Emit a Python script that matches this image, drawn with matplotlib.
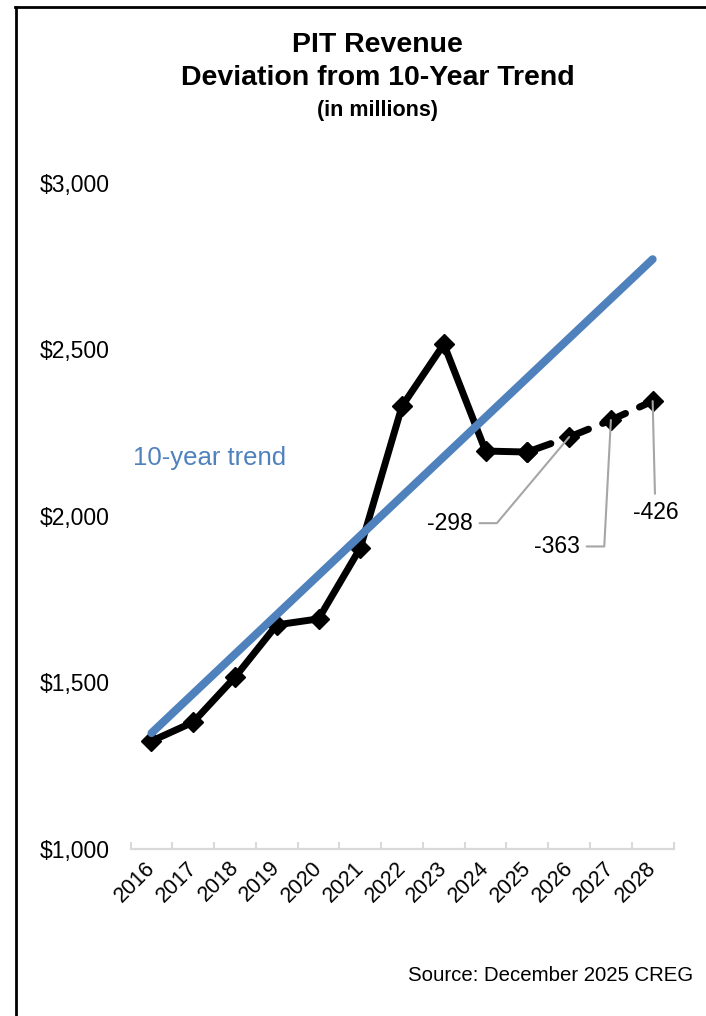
"""PIT revenue vs 10-year trend (line chart recreation)."""

import matplotlib

matplotlib.use("Agg")
import matplotlib.pyplot as plt  # noqa: E402
import matplotlib.transforms as mtransforms  # noqa: E402
from matplotlib.lines import Line2D  # noqa: E402

plt.rcParams["font.family"] = ["Liberation Sans", "DejaVu Sans"]

YEARS = [2016, 2017, 2018, 2019, 2020, 2021, 2022, 2023, 2024, 2025, 2026, 2027, 2028]
ACTUAL_YEARS = YEARS[:10]
ACTUAL = [1324, 1381, 1516, 1673, 1691, 1904, 2330, 2516, 2195, 2192]
FORECAST_YEARS = [2025, 2026, 2027, 2028]
FORECAST = [2192, 2237, 2288, 2345]
TREND_YEARS = [2016, 2028]
TREND = [1348, 2771]
DEVIATION_YEARS = [2026, 2027, 2028]
DEVIATION_LABELS = ["-298", "-363", "-426"]
Y_TICKS = [1000, 1500, 2000, 2500, 3000]

BLUE = "#4F81BD"
GRAY = "#A6A6A6"


def main() -> None:
    fig = plt.figure(figsize=(7.06, 10.16), dpi=100)
    ax = fig.add_axes([0.185, 0.1644, 0.769, 0.6555])

    idx = {y: i for i, y in enumerate(YEARS)}

    ax.plot([idx[y] for y in ACTUAL_YEARS], ACTUAL, color="black", linewidth=5,
            marker="D", markersize=10.5, zorder=2, solid_joinstyle="miter")
    ax.plot([idx[y] for y in FORECAST_YEARS], FORECAST, color="black", linewidth=5,
            linestyle=(0, (3.6, 2.2)), dash_capstyle="round", marker="D",
            markersize=10.5, zorder=2)
    ax.plot([idx[y] for y in TREND_YEARS], TREND, color=BLUE, linewidth=5.8,
            solid_capstyle="round", zorder=3)

    ax.set_xlim(-0.5, len(YEARS) - 0.5)
    ax.set_ylim(1000, 3000)
    ax.set_yticks(Y_TICKS)
    ax.set_yticklabels([f"${v:,}" for v in Y_TICKS], fontsize=16.5)
    ax.tick_params(axis="y", length=0, pad=15)

    ax.set_xticks(range(len(YEARS)))
    ax.set_xticklabels([str(y) for y in YEARS], rotation=45, ha="right",
                       va="top", rotation_mode="anchor", fontsize=15.5)
    ax.tick_params(axis="x", which="major", length=0, pad=6)
    shift = mtransforms.ScaledTranslation(-5 / 72, 0, fig.dpi_scale_trans)
    for lbl in ax.get_xticklabels():
        lbl.set_transform(lbl.get_transform() + shift)
    ax.set_xticks([i - 0.5 for i in range(len(YEARS) + 1)], minor=True)
    ax.tick_params(axis="x", which="minor", direction="in", length=5,
                   color="#D9D9D9", width=1.5)

    for side in ("left", "right", "top"):
        ax.spines[side].set_visible(False)
    ax.spines["bottom"].set_color("#D9D9D9")
    ax.spines["bottom"].set_linewidth(1.6)

    # deviation callouts
    value_at = dict(zip(FORECAST_YEARS, FORECAST))
    offsets = [(-86, -62), (-39, -91), (2, -80)]
    styles = ["angle,angleA=0,angleB=50,rad=0",
              "angle,angleA=0,angleB=87,rad=0",
              "arc3,rad=0"]
    for year, label, off, style in zip(DEVIATION_YEARS, DEVIATION_LABELS, offsets, styles):
        ax.annotate(label, xy=(idx[year], value_at[year]), xytext=off,
                    textcoords="offset points", fontsize=16.5, ha="center",
                    va="center",
                    arrowprops=dict(arrowstyle="-", color=GRAY, lw=1.5,
                                    connectionstyle=style, shrinkA=3, shrinkB=0))

    fig.text(0.188, 0.5495, "10-year trend", color=BLUE, fontsize=18.5,
             ha="left", va="center")

    fig.text(0.535, 0.956, "PIT Revenue", fontsize=20.5, fontweight="bold",
             ha="center", va="center")
    fig.text(0.535, 0.923, "Deviation from 10-Year Trend", fontsize=20.5,
             fontweight="bold", ha="center", va="center")
    fig.text(0.535, 0.891, "(in millions)", fontsize=15.5, fontweight="bold",
             ha="center", va="center")
    fig.text(0.982, 0.04, "Source: December 2025 CREG", fontsize=14.7,
             ha="right", va="center")

    # frame border (left and top edges)
    fig.add_artist(Line2D([0.022, 0.022], [0.0, 0.9935], color="black", lw=2,
                          transform=fig.transFigure))
    fig.add_artist(Line2D([0.021, 1.0], [0.9935, 0.9935], color="black", lw=2,
                          transform=fig.transFigure))

    fig.savefig("out.png", dpi=100)
    plt.close(fig)


if __name__ == "__main__":
    main()
